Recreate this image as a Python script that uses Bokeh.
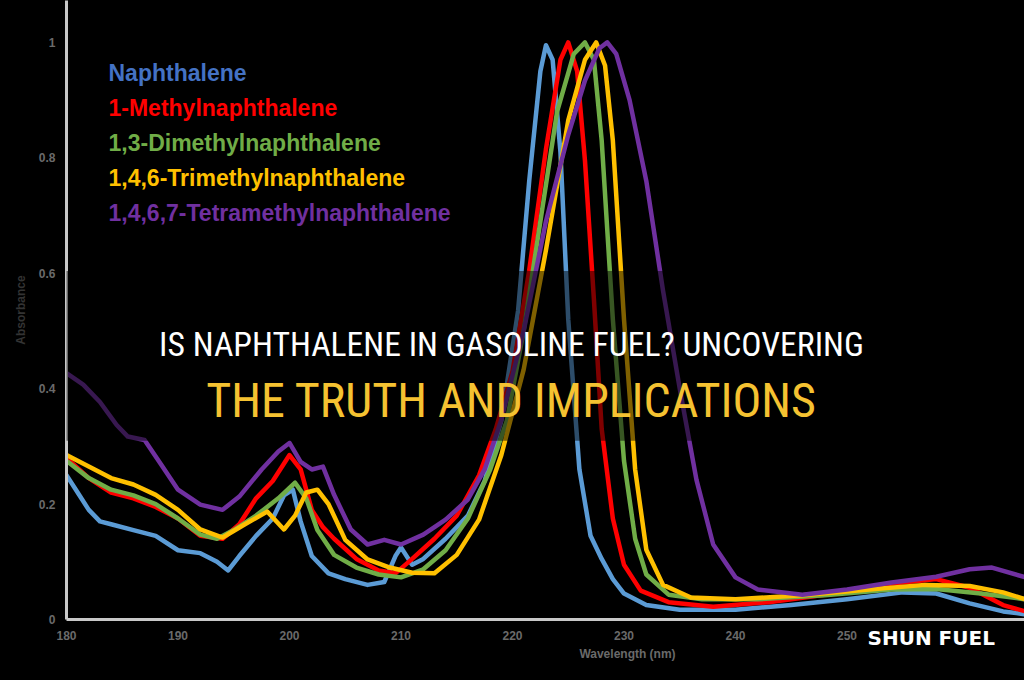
from bokeh.plotting import figure
from bokeh.models import Label, BoxAnnotation, FixedTicker, Range1d
from bokeh.embed import file_html
from bokeh.resources import INLINE
from bokeh.core.properties import value

# ---------------- data ----------------
x_ticks = [180, 190, 200, 210, 220, 230, 240, 250]
y_ticks = [0, 0.2, 0.4, 0.6, 0.8, 1.0]
y_tick_labels = ["0", "0.2", "0.4", "0.6", "0.8", "1"]

series_names = [
    "Naphthalene",
    "1-Methylnaphthalene",
    "1,3-Dimethylnaphthalene",
    "1,4,6-Trimethylnaphthalene",
    "1,4,6,7-Tetramethylnaphthalene",
]
line_colors = ["#5B9BD5", "#FF0000", "#70AD47", "#FFC000", "#7030A0"]
legend_colors = ["#4472C4", "#FF0000", "#70AD47", "#FFC000", "#7030A0"]

naph_nm = [180, 181, 182, 183, 184, 186, 188, 190, 192, 193.5, 194.5, 195.5, 197, 198.5, 199.5, 200.3,
           201, 202, 203.5, 205, 207, 208.5, 209.5, 210, 211, 212, 214, 216, 217.5, 219, 220.5, 221.5,
           222.5, 223, 223.6, 224.3, 225, 226, 227, 228, 229, 230, 232, 235, 240, 245, 250, 255, 258,
           261, 264, 266]
naph_abs = [0.25, 0.22, 0.19, 0.17, 0.165, 0.155, 0.145, 0.12, 0.115, 0.10, 0.085, 0.11, 0.145, 0.175,
            0.215, 0.225, 0.17, 0.11, 0.08, 0.07, 0.06, 0.065, 0.11, 0.125, 0.095, 0.105, 0.14, 0.18,
            0.24, 0.345, 0.535, 0.76, 0.95, 0.995, 0.97, 0.81, 0.52, 0.26, 0.145, 0.105, 0.07, 0.045,
            0.025, 0.017, 0.017, 0.025, 0.035, 0.047, 0.045, 0.028, 0.014, 0.009]

methyl_nm = [180, 182, 184, 186, 188, 190, 192, 194, 195.5, 197, 198.5, 200, 201, 202, 203, 204, 206,
             208, 209.5, 211, 213, 215, 217, 218.5, 220, 221.5, 223, 224.3, 225, 225.8, 226.5, 227.3,
             228, 229, 230, 231.5, 234, 238, 243, 248, 253, 258, 261, 264, 266]
methyl_abs = [0.28, 0.245, 0.22, 0.21, 0.195, 0.175, 0.145, 0.14, 0.165, 0.21, 0.24, 0.285, 0.26, 0.19,
              0.16, 0.14, 0.105, 0.085, 0.08, 0.105, 0.14, 0.18, 0.25, 0.33, 0.43, 0.605, 0.815, 0.97,
              1.0, 0.95, 0.795, 0.555, 0.33, 0.175, 0.095, 0.05, 0.03, 0.022, 0.03, 0.043, 0.06, 0.07,
              0.055, 0.025, 0.014]

dimethyl_nm = [180, 182, 184, 186, 188, 190, 192, 193.5, 195, 197, 199, 200.5, 201.5, 202.5, 204, 206,
               208, 210, 212, 214, 216, 218, 219.5, 221, 222.5, 224, 225.5, 226.5, 227.3, 228, 229, 230,
               231, 232, 234, 237, 242, 248, 254, 258, 262, 266]
dimethyl_abs = [0.275, 0.245, 0.225, 0.215, 0.2, 0.175, 0.147, 0.14, 0.155, 0.18, 0.21, 0.237, 0.21,
                0.155, 0.112, 0.09, 0.078, 0.073, 0.087, 0.12, 0.175, 0.26, 0.345, 0.5, 0.69, 0.88, 0.98,
                1.0, 0.97, 0.83, 0.52, 0.275, 0.14, 0.078, 0.043, 0.035, 0.035, 0.042, 0.052, 0.053,
                0.045, 0.035]

trimethyl_nm = [180, 182, 184, 186, 188, 190, 192, 194, 196, 198, 199.5, 200.5, 201.5, 202.5, 203.5,
                205, 207, 209, 211, 213, 215, 217, 219, 221, 223, 225, 226.5, 227.5, 228.3, 229, 230,
                231, 232, 233.5, 236, 240, 246, 252, 257, 261, 264, 266]
trimethyl_abs = [0.285, 0.265, 0.245, 0.234, 0.216, 0.19, 0.156, 0.142, 0.165, 0.187, 0.156, 0.18, 0.22,
                 0.225, 0.2, 0.138, 0.104, 0.09, 0.081, 0.08, 0.112, 0.173, 0.285, 0.433, 0.64, 0.865,
                 0.97, 1.0, 0.96, 0.83, 0.52, 0.26, 0.121, 0.06, 0.038, 0.035, 0.042, 0.052, 0.06, 0.058,
                 0.047, 0.035]

tetramethyl_nm = [180, 181.5, 183, 184.5, 185.5, 187, 188.5, 190, 192, 194, 195.5, 197.5, 199, 200, 201,
                  202, 203, 204, 205.5, 207, 208.5, 210, 212, 214, 216, 217.5, 219, 221, 223, 225, 226.5,
                  227.8, 228.5, 229.3, 230.5, 232, 233.5, 235, 236.5, 238, 240, 242, 246, 250, 254, 258,
                  261, 263, 266]
tetramethyl_abs = [0.427, 0.407, 0.377, 0.337, 0.317, 0.311, 0.268, 0.225, 0.199, 0.19, 0.213, 0.26,
                   0.291, 0.306, 0.273, 0.26, 0.265, 0.216, 0.156, 0.13, 0.138, 0.13, 0.147, 0.173, 0.208,
                   0.26, 0.346, 0.5, 0.69, 0.84, 0.934, 0.99, 1.0, 0.98, 0.9, 0.76, 0.57, 0.4, 0.242,
                   0.13, 0.073, 0.052, 0.043, 0.052, 0.064, 0.074, 0.087, 0.09, 0.073]

series_x = [naph_nm, methyl_nm, dimethyl_nm, trimethyl_nm, tetramethyl_nm]
series_y = [naph_abs, methyl_abs, dimethyl_abs, trimethyl_abs, tetramethyl_abs]

title_line1 = "IS NAPHTHALENE IN GASOLINE FUEL? UNCOVERING"
title_line2 = "THE TRUTH AND IMPLICATIONS"
x_title = "Wavelength (nm)"
y_title = "Absorbance"
brand = "SHUN FUEL"

# ---------------- layout ----------------
W, H = 1024, 680
FRAME_L = 66
FRAME_BOTTOM_PX = 620
PX_PER_NM = 11.15
PX_PER_UNIT = 578.0
X0 = x_ticks[0]
x_end = X0 + (W - FRAME_L) / PX_PER_NM
y_end = FRAME_BOTTOM_PX / PX_PER_UNIT


def dx(px):
    return X0 + (px - FRAME_L) / PX_PER_NM


def dy(py):
    return (FRAME_BOTTOM_PX - py) / PX_PER_UNIT


p = figure(width=W, height=H, output_backend="svg", toolbar_location=None,
           x_range=Range1d(X0, x_end), y_range=Range1d(0, y_end),
           min_border_left=FRAME_L, min_border_bottom=H - FRAME_BOTTOM_PX,
           min_border_top=0, min_border_right=0,
           styles={"background-color": "black"})
p.background_fill_color = "black"
p.border_fill_color = None
p.outline_line_color = None
p.xgrid.visible = False
p.ygrid.visible = False

for ax in (p.xaxis[0], p.yaxis[0]):
    ax.axis_line_color = "#c8c8c8"
    ax.axis_line_width = 3
    ax.major_tick_line_color = None
    ax.minor_tick_line_color = None
    ax.major_label_text_color = "#6a6a6a"
    ax.major_label_text_font = "Liberation Sans"
    ax.major_label_text_font_style = "bold"
    ax.major_label_text_font_size = "12px"

p.xaxis.ticker = FixedTicker(ticks=x_ticks)
p.xaxis.major_label_standoff = 5
p.yaxis.ticker = FixedTicker(ticks=y_ticks)
p.yaxis.major_label_overrides = {t: s for t, s in zip(y_ticks, y_tick_labels)}
p.yaxis.major_label_standoff = 5
p.yaxis.axis_label = y_title
p.yaxis.axis_label_text_color = "#333333"
p.yaxis.axis_label_text_font = "Liberation Sans"
p.yaxis.axis_label_text_font_style = "bold"
p.yaxis.axis_label_text_font_size = "12px"
p.yaxis.axis_label_standoff = 8

for xs, ys, c in zip(series_x, series_y, line_colors):
    p.line(xs, ys, line_color=c, line_width=4.5, line_join="round", line_cap="round")

# legend (coloured text only)
p.text(x=[dx(108)] * len(series_names),
       y=[dy(73 + 35 * i) for i in range(len(series_names))],
       text=series_names, text_color=legend_colors,
       text_font=value("Liberation Sans"), text_font_style="bold",
       text_font_size="23px", text_baseline="middle", text_align="left")

# banner
p.add_layout(BoxAnnotation(left=dx(0), right=dx(W), top=dy(271), bottom=dy(441),
                           fill_color="black", fill_alpha=0.5, line_color=None))

p.add_layout(Label(x=dx(511), y=dy(345), text=title_line1, text_align="center",
                   text_baseline="alphabetic", text_color="white",
                   text_font="Roboto Condensed", text_font_size="33.7px"))
p.add_layout(Label(x=dx(511), y=dy(401), text=title_line2, text_align="center",
                   text_baseline="alphabetic", text_color="#F5C231",
                   text_font="Roboto Condensed", text_font_size="48px"))

# texts below the frame (side panel => not clipped)
p.add_layout(Label(x=dx(627), y=dy(655), text=x_title, text_align="center",
                   text_baseline="middle", text_color="#6a6a6a",
                   text_font="Liberation Sans", text_font_style="bold",
                   text_font_size="12px"), "below")
p.add_layout(Label(x=dx(867), y=dy(639), text=brand, text_align="left",
                   text_baseline="alphabetic", text_color="white",
                   text_font="DejaVu Sans", text_font_style="bold",
                   text_font_size="20px"), "below")

open("out.html", "w").write(file_html(p, INLINE))
